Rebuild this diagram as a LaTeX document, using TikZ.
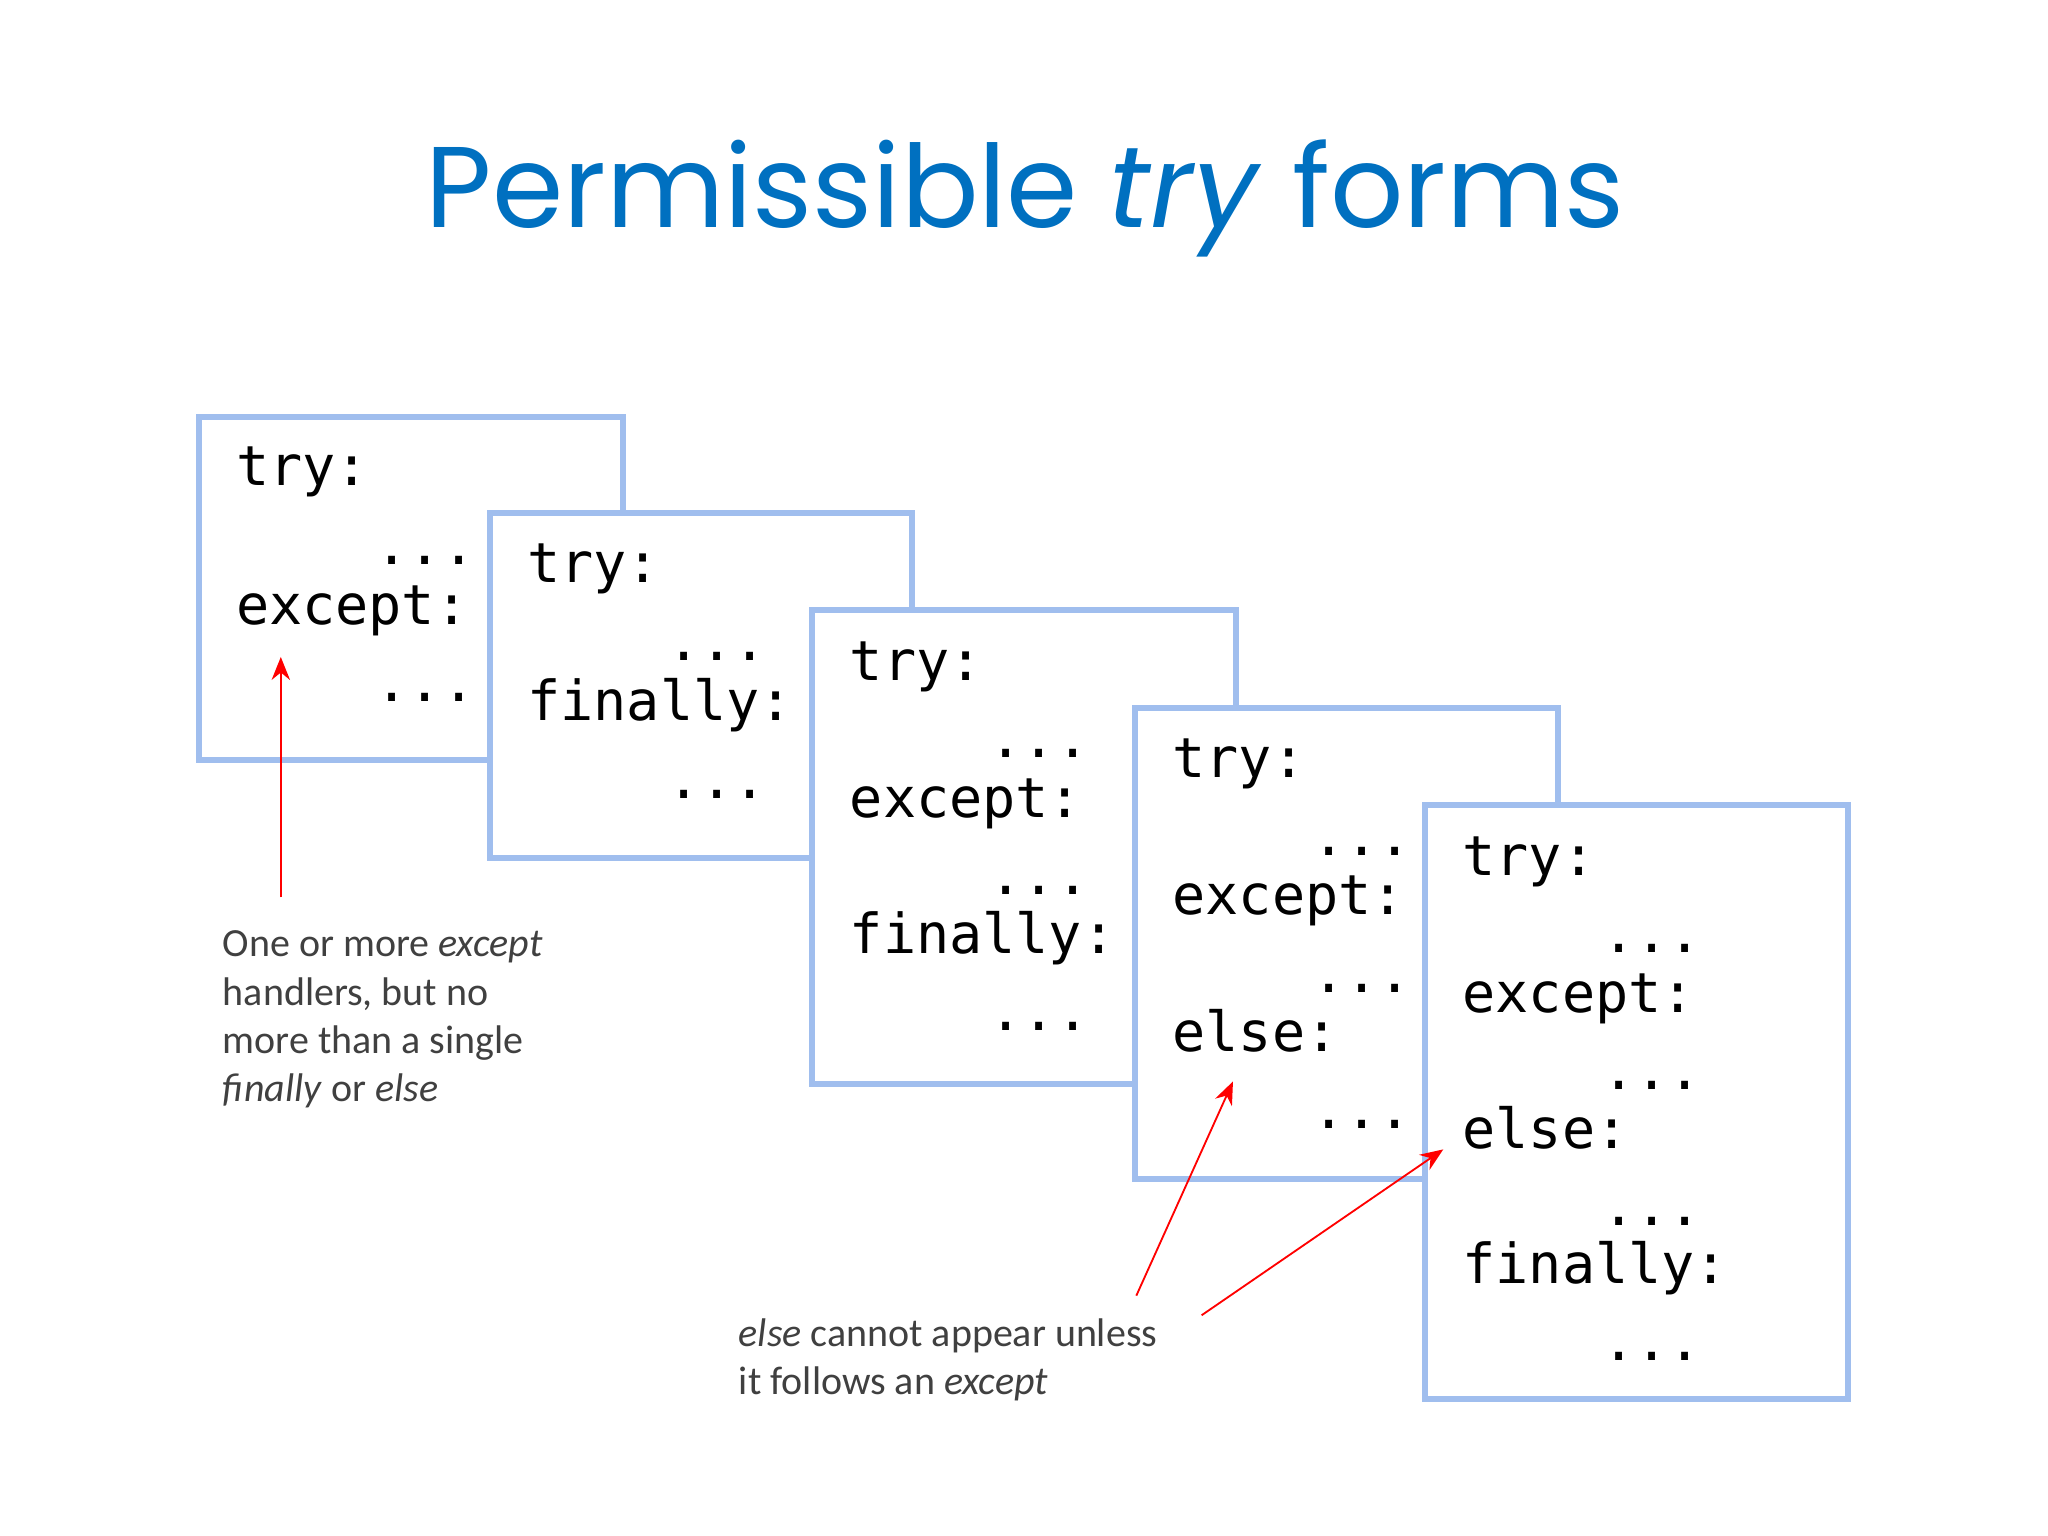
\documentclass[tikz,border=0pt]{standalone}
\usepackage{fontspec}
\setmonofont{DejaVu Sans Mono}
\newfontfamily\titlefont{Poppins}
\newfontfamily\notefont{Carlito}
\usetikzlibrary{arrows.meta}
\definecolor{titleblue}{RGB}{0,112,192}
\definecolor{boxblue}{RGB}{160,190,238}
\definecolor{notegray}{RGB}{64,64,64}

\begin{document}
\begin{tikzpicture}[x=0.01cm,y=-0.01cm]

\tikzstyle{card} = [draw=boxblue, line width=1.3pt, fill=white]
\tikzstyle{code} = [anchor=base west, inner sep=0pt, font=\ttfamily\fontsize{12}{14}\selectfont]
\tikzstyle{note} = [anchor=north west, inner sep=0pt, align=left, text=notegray, font=\notefont\fontsize{8.7}{10.5}\selectfont]
\tikzstyle{arrow} = [red, line width=0.4pt, -{Stealth[length=5pt,width=4pt]}]

\useasboundingbox (0,0) rectangle (1568,1176);

\node (title) [text=titleblue, font=\titlefont\fontsize{25}{28}\selectfont] at (785,152) {Permissible \textit{try} forms};

% first form
\draw [card] (152,319) rectangle (477,582);
\node (t1) [code] at (180,372) {try:};
\node (d1a) [code] at (287,432) {...};
\node (e1) [code] at (180,478) {except:};
\node (d1b) [code] at (287,537) {...};

% second form
\draw [card] (375,393) rectangle (698,657);
\node (t2) [code] at (403,446) {try:};
\node (d2a) [code] at (510,506) {...};
\node (f2) [code] at (403,552) {finally:};
\node (d2b) [code] at (510,611) {...};

% third form
\draw [card] (622,467) rectangle (946,830);
\node (t3) [code] at (650,521) {try:};
\node (d3a) [code] at (757,580) {...};
\node (e3) [code] at (650,626) {except:};
\node (d3b) [code] at (757,685) {...};
\node (f3) [code] at (650,730) {finally:};
\node (d3c) [code] at (757,789) {...};

% fourth form
\draw [card] (869,542) rectangle (1193,903);
\node (t4) [code] at (897,595) {try:};
\node (d4a) [code] at (1004,655) {...};
\node (e4) [code] at (897,700) {except:};
\node (d4b) [code] at (1004,760) {...};
\node (l4) [code] at (897,805) {else:};
\node (d4c) [code] at (1004,864) {...};

% fifth form
\draw [card] (1091,616) rectangle (1415,1071);
\node (t5) [code] at (1119,670) {try:};
\node (d5a) [code] at (1226,729) {...};
\node (e5) [code] at (1119,775) {except:};
\node (d5b) [code] at (1226,834) {...};
\node (l5) [code] at (1119,879) {else:};
\node (d5c) [code] at (1226,938) {...};
\node (f5) [code] at (1119,983) {finally:};
\node (d5d) [code] at (1226,1042) {...};

% notes
\node (exceptnote) [note] at (170,712) {One or more \textit{except}\\handlers, but no\\more than a single\\\textit{finally} or \textit{else}};
\node (elsenote) [note] at (565,1009) {\textit{else} cannot appear unless\\it follows an \textit{except}};

\coordinate (a1) at (215,687);
\coordinate (a1e) at (215,503);
\coordinate (a2) at (870,992);
\coordinate (a2e) at (944,828);
\coordinate (a3) at (920,1007);
\coordinate (a3e) at (1105,880);

\draw [arrow] (a1) -- (a1e);
\draw [arrow] (a2) -- (a2e);
\draw [arrow] (a3) -- (a3e);

\end{tikzpicture}
\end{document}
